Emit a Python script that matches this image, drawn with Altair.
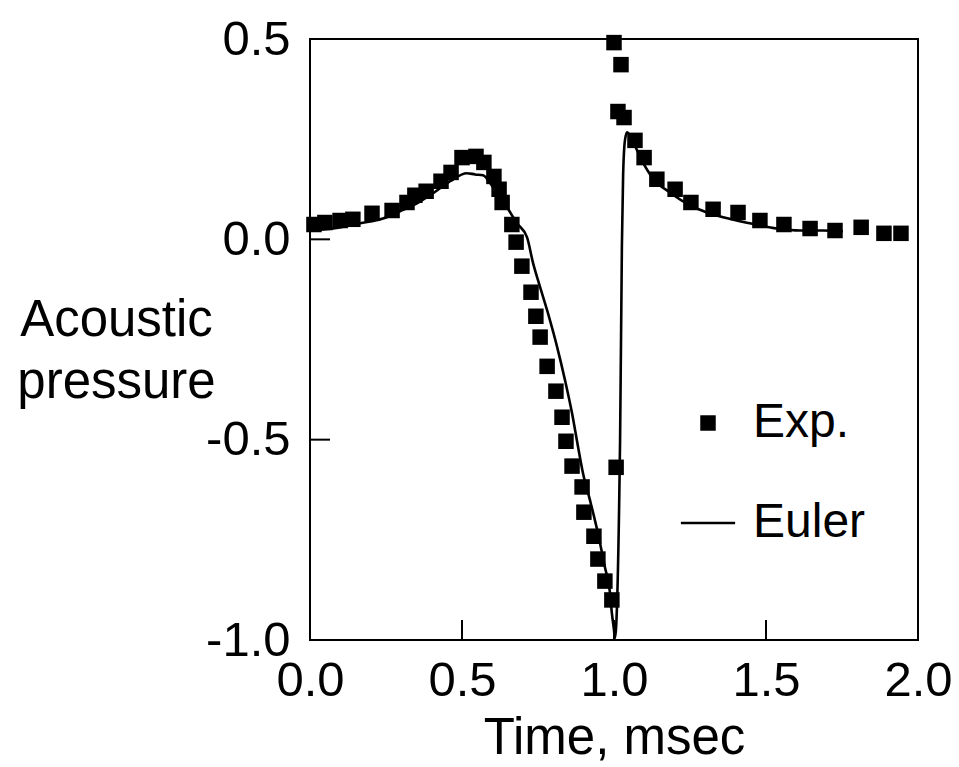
import altair as alt
import pandas as pd

# ---------------- data ----------------
exp_t = [0.013, 0.049, 0.099, 0.141, 0.204, 0.270, 0.319, 0.345, 0.382, 0.431,
         0.464, 0.500, 0.546, 0.572, 0.605, 0.622, 0.632, 0.664, 0.678, 0.697,
         0.727, 0.743, 0.757, 0.780, 0.809, 0.829, 0.842, 0.862, 0.895, 0.901,
         0.934, 0.947, 0.970, 0.993, 1.007, 1.000, 1.023, 1.013, 1.033, 1.069,
         1.099, 1.141, 1.201, 1.253, 1.326, 1.408, 1.480, 1.559, 1.645, 1.727,
         1.813, 1.888, 1.944]
exp_v = [0.037, 0.042, 0.047, 0.050, 0.065, 0.072, 0.092, 0.110, 0.120, 0.145,
         0.167, 0.204, 0.207, 0.192, 0.157, 0.125, 0.092, 0.037, -0.007, -0.067,
         -0.132, -0.192, -0.244, -0.317, -0.379, -0.444, -0.504, -0.566, -0.618, -0.681,
         -0.741, -0.798, -0.853, -0.900, -0.569, 0.491, 0.436, 0.319, 0.304, 0.247,
         0.204, 0.150, 0.125, 0.092, 0.075, 0.067, 0.047, 0.037, 0.027, 0.022,
         0.030, 0.015, 0.015]

euler_t = [0.000, 0.076, 0.164, 0.240, 0.296, 0.352, 0.405, 0.461, 0.516, 0.543,
           0.569, 0.602, 0.648, 0.681, 0.714, 0.734, 0.750, 0.783, 0.813, 0.839,
           0.862, 0.882, 0.898, 0.921, 0.947, 0.970, 0.987, 0.993, 1.000, 1.003,
           1.020, 1.026, 1.030, 1.036, 1.043, 1.063, 1.095, 1.128, 1.184, 1.250,
           1.306, 1.359, 1.447, 1.536, 1.612, 1.688, 1.753]
euler_v = [0.022, 0.027, 0.040, 0.052, 0.070, 0.090, 0.115, 0.145, 0.165, 0.162,
           0.160, 0.130, 0.080, 0.040, 0.005, -0.060, -0.102, -0.185, -0.269, -0.352,
           -0.434, -0.519, -0.584, -0.651, -0.733, -0.818, -0.883, -0.933, -0.975, -0.995,
           -0.501, -0.015, 0.160, 0.247, 0.267, 0.242, 0.192, 0.152, 0.117, 0.085,
           0.067, 0.055, 0.040, 0.027, 0.022, 0.022, 0.020]

series_names = ["Exp.", "Euler"]
x_tick_values = [0.0, 0.5, 1.0, 1.5, 2.0]
y_tick_values = [-1.0, -0.5, 0.0, 0.5]
inner_x_ticks = [0.5, 1.0, 1.5]
inner_y_ticks = [-0.5, 0.0]
x_title = "Time, msec"
y_title = ["Acoustic", "pressure"]

# ---------------- styling ----------------
FONT = "Liberation Sans"
W, H = 608, 601
TICK_LEN = 20

exp_df = pd.DataFrame({"t": exp_t, "v": exp_v, "series": series_names[0]})
euler_df = pd.DataFrame({"t": euler_t, "v": euler_v})
xt_df = pd.DataFrame({"t": inner_x_ticks})
yt_df = pd.DataFrame({"v": inner_y_ticks})

xs = alt.Scale(domain=[0, 2], nice=False, zero=False)
ys = alt.Scale(domain=[-1, 0.5], nice=False, zero=False)

label_expr = "datum.value < 0 ? '-' + format(-datum.value, '.1f') : format(datum.value, '.1f')"

x_axis = alt.Axis(values=x_tick_values, labelExpr=label_expr, ticks=False, domain=False,
                  grid=False, labelFont=FONT, labelFontSize=49, labelColor="black",
                  labelPadding=16, labelFlush=False, labelOverlap=False,
                  title=x_title, titleFont=FONT, titleFontSize=51, titleFontWeight="normal",
                  titleColor="black", titleX=W / 2, titleY=113, titleBaseline="alphabetic",
                  titleAlign="center")
y_axis = alt.Axis(values=y_tick_values, labelExpr=label_expr, ticks=False, domain=False,
                  grid=False, labelFont=FONT, labelFontSize=49, labelColor="black",
                  labelPadding=20, labelFlush=False, labelOverlap=False,
                  title=y_title, titleFont=FONT, titleFontSize=51, titleFontWeight="normal",
                  titleColor="black", titleAngle=0, titleAlign="center",
                  titleBaseline="alphabetic", titleX=-194, titleY=296, titleLineHeight=62)


def X(field="t"):
    return alt.X(f"{field}:Q", scale=xs, axis=x_axis)


def Y(field="v"):
    return alt.Y(f"{field}:Q", scale=ys, axis=y_axis)


line_symbol = "M-3.5,-0.17L3.5,-0.17L3.5,0.17L-3.5,0.17Z"

euler = alt.Chart(euler_df).mark_line(color="black", strokeWidth=2.6,
                                      interpolate="monotone").encode(x=X(), y=Y())

points = alt.Chart(exp_df).mark_point(filled=True, color="black", opacity=1, size=240).encode(
    x=X(), y=Y(),
    shape=alt.Shape("series:N",
                    scale=alt.Scale(domain=series_names, range=["square", line_symbol]),
                    legend=alt.Legend(title=None, orient="none", legendX=374, legendY=360,
                                      labelFont=FONT, labelFontSize=48, labelColor="black",
                                      labelOffset=21, rowPadding=52, symbolSize=240,
                                      symbolFillColor="black", symbolStrokeWidth=0)))

y_ticks_layer = alt.Chart(yt_df).mark_rule(color="black", strokeWidth=2).encode(
    y=Y(), x=alt.value(0), x2=alt.value(TICK_LEN))
x_ticks_layer = alt.Chart(xt_df).mark_rule(color="black", strokeWidth=2).encode(
    x=X(), y=alt.value(H), y2=alt.value(H - TICK_LEN))

chart = alt.layer(y_ticks_layer, x_ticks_layer, euler, points).properties(
    width=W, height=H,
    autosize=alt.AutoSizeParams(type="none"),
    padding={"left": 310, "top": 39, "right": 41, "bottom": 127},
    background="white",
).configure_view(stroke="black", strokeWidth=2)

chart.save("out.html", embed_options={"renderer": "svg", "actions": False})
